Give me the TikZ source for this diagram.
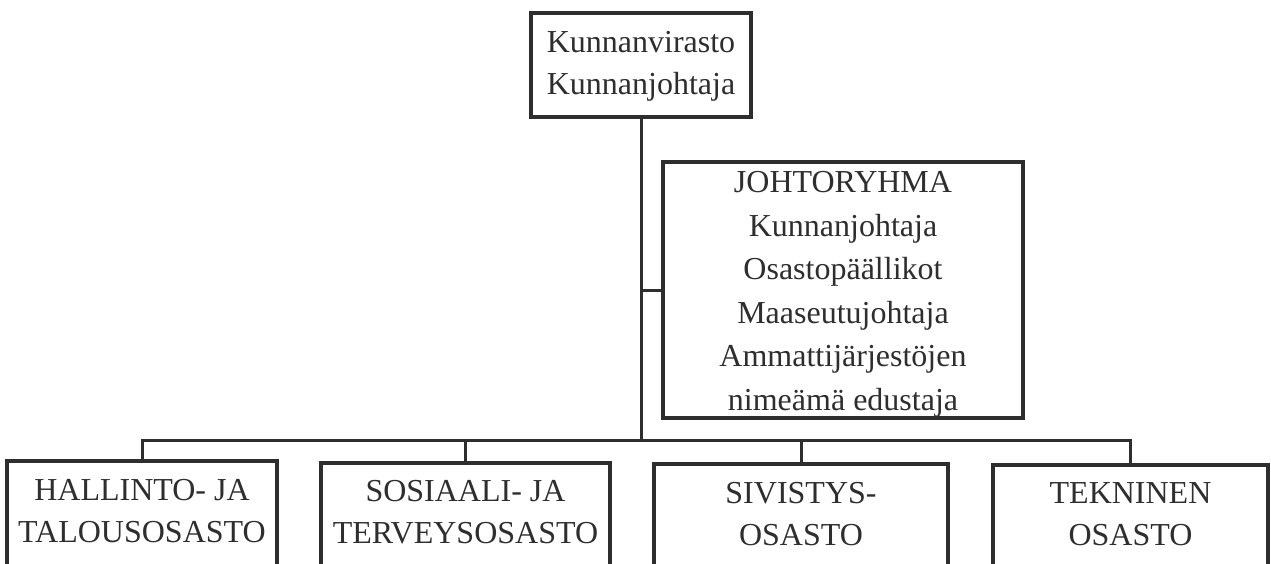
\documentclass[tikz,border=0pt]{standalone}
\usepackage{fontspec}
\setmainfont{Liberation Serif}
\definecolor{ink}{HTML}{2E2E2E}
\begin{document}
\begin{tikzpicture}[x=1pt,y=-1pt,
  orgbox/.style={draw=ink, line width=3.5pt, rectangle, inner sep=0pt},
  orgtext/.style={align=center, inner sep=0pt, text=ink, font=\fontsize{32}{42}\selectfont},
  grouptext/.style={align=center, inner sep=0pt, text=ink, font=\fontsize{32}{43.5}\selectfont},
  depttext/.style={align=center, inner sep=0pt, text=ink, font=\fontsize{32}{42}\selectfont},
  link/.style={draw=ink, line width=3pt}]
\clip (0,0) rectangle (1271,563);
\fill[white] (0,0) rectangle (1271,563);
% top box
\node[orgbox, minimum width=220pt, minimum height=104pt] (top) at (641,65) {};
\node[orgtext] (toptxt) at (641,66) {Kunnanvirasto\\Kunnanjohtaja};
% management group
\node[orgbox, minimum width=360pt, minimum height=256pt] (johto) at (843,290) {};
\node[grouptext] (johtotxt) at (843,294.5) {JOHTORYHMA\\Kunnanjohtaja\\Osastopäällikot\\Maaseutujohtaja\\Ammattijärjestöjen\\nimeämä edustaja};
% departments
\node[orgbox, anchor=north, minimum width=270pt, minimum height=160pt] (b1) at (142,459) {};
\node[orgbox, anchor=north, minimum width=289pt, minimum height=160pt] (b2) at (465.5,461) {};
\node[orgbox, anchor=north, minimum width=294pt, minimum height=160pt] (b3) at (801,462) {};
\node[orgbox, anchor=north, minimum width=275pt, minimum height=160pt] (b4) at (1130.5,463) {};
\node[depttext] (t1) at (142,511.5) {HALLINTO- JA\\TALOUSOSASTO};
\node[depttext] (t2) at (465.5,512) {SOSIAALI- JA\\TERVEYSOSASTO};
\node[depttext] (t3) at (801,514) {SIVISTYS-\\OSASTO};
\node[depttext] (t4) at (1130.5,514.5) {TEKNINEN\\OSASTO};
% connectors
\coordinate (bus) at (641,440);
\draw[link] (top.south) -- (bus);
\draw[link] (johto.west) -- (johto.west -| top.south);
\draw[link] (b1.north) -- (b1.north |- bus) -- (b4.north |- bus) -- (b4.north);
\draw[link] (b2.north) -- (b2.north |- bus);
\draw[link] (b3.north) -- (b3.north |- bus);
\end{tikzpicture}
\end{document}
